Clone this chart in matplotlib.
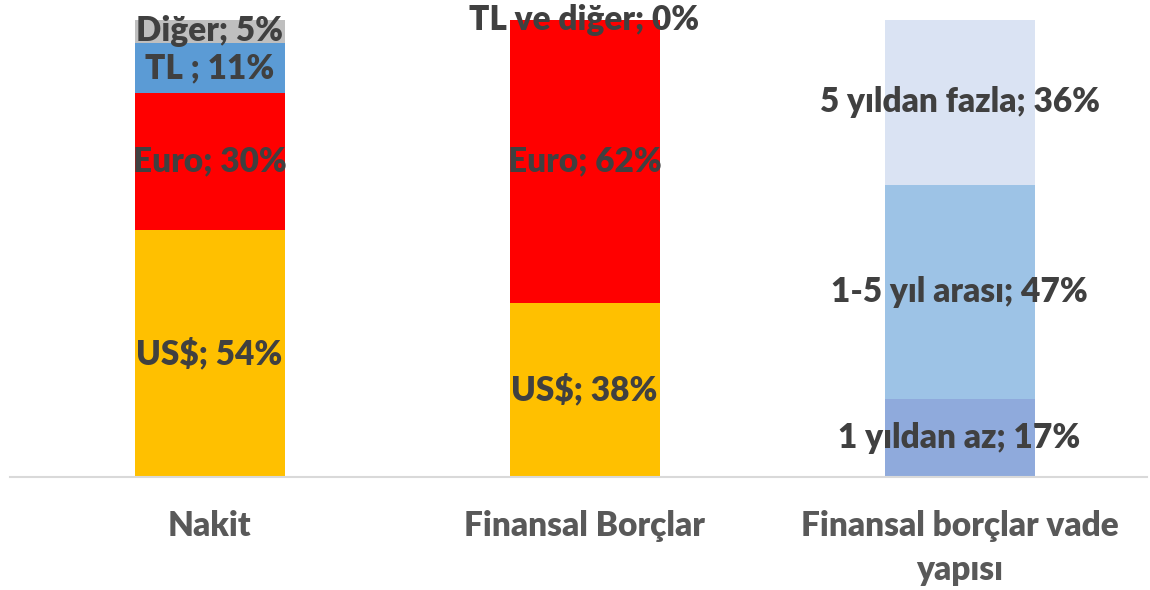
#!/usr/bin/env python3

import matplotlib
matplotlib.use('Agg')
import matplotlib.pyplot as plt

CATEGORIES = ['Nakit', 'Finansal Borçlar', 'Finansal borçlar vade\nyapısı']

# each bar: list of (label, value, color), bottom to top
NAKIT = [('US$', 54, '#ffc000'), ('Euro', 30, '#ff0000'),
         ('TL ', 11, '#5b9bd5'), ('Diğer', 5, '#bfbfbf')]
BORC = [('US$', 38, '#ffc000'), ('Euro', 62, '#ff0000'),
        ('TL ve diğer', 0, '#5b9bd5')]
VADE = [('1 yıldan az', 17, '#8faadc'), ('1-5 yıl arası', 47, '#9dc3e6'),
        ('5 yıldan fazla', 36, '#dae3f3')]

BARS = [NAKIT, BORC, VADE]

plt.rcParams['font.family'] = ['Lato', 'DejaVu Sans']

fig = plt.figure(figsize=(11.5, 5.9), dpi=100)
ax = fig.add_axes([10 / 1150, 113 / 590, 1137 / 1150, 457 / 590])

for i, segs in enumerate(BARS):
    bottom = 0
    for label, value, color in segs:
        ax.bar(i, value, bottom=bottom, width=0.4, color=color, linewidth=0)
        ax.text(i, bottom + value / 2, '%s; %d%%' % (label, value),
                ha='center', va='center', fontsize=24, fontweight='heavy',
                color='#404040')
        bottom += value

ax.set_xlim(-0.532, 2.5)
ax.set_ylim(0, 100)
ax.set_xticks(range(len(CATEGORIES)))
ax.set_xticklabels(CATEGORIES, fontsize=24, fontweight='heavy', color='#595959',
                   linespacing=1.45)
ax.tick_params(axis='x', length=0, pad=24)
ax.set_yticks([])
for s in ['top', 'left', 'right']:
    ax.spines[s].set_visible(False)
ax.spines['bottom'].set_color('#d9d9d9')
ax.spines['bottom'].set_linewidth(1.5)

fig.savefig('out.png', dpi=100)
